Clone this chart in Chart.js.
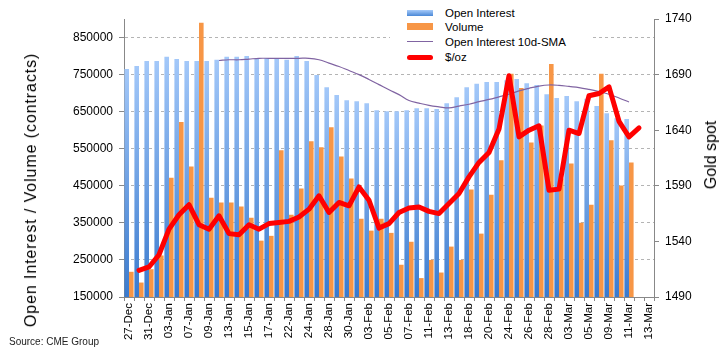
<!DOCTYPE html>
<html>
<head>
<meta charset="utf-8">
<script src="https://cdn.jsdelivr.net/npm/chart.js@4.4.0/dist/chart.umd.min.js"></script>
<style>
  body { margin: 0; background: #fff; }
  #wrap { position: relative; width: 728px; height: 354px; font-family: "Liberation Sans", Arial, sans-serif; color: #000; }
  #chart { position: absolute; left: 0; top: 0; }
  .vtitle { position: absolute; white-space: nowrap; transform: translate(-50%, -50%) rotate(-90deg); font-size: 16px; }
  #legend { position: absolute; left: 390px; top: 0; width: 200px; height: 64px; background: #fff; font-size: 11.5px; }
  .row { position: absolute; left: 0; height: 14px; line-height: 14px; }
  .row span.t { position: absolute; left: 55px; top: 0; white-space: nowrap; }
  .sw { position: absolute; left: 17px; width: 26px; }
  #source { position: absolute; left: 9px; top: 336px; font-size: 10px; color: #222; white-space: nowrap; }
</style>
</head>
<body>
<div id="wrap">
  <canvas id="chart" width="728" height="354"></canvas>
  <div class="vtitle" style="left:31px; top:190px; letter-spacing:0.9px;">Open Interest / Volume (contracts)</div>
  <div class="vtitle" style="left:711px; top:155px;">Gold spot</div>
  <div id="legend">
    <div class="row" style="top:6px"><div class="sw" style="top:4px;height:6px;background:linear-gradient(#a7cbfa,#4a88d6);"></div><span class="t">Open Interest</span></div>
    <div class="row" style="top:20px"><div class="sw" style="top:3px;height:7px;background:#f79646;"></div><span class="t">Volume</span></div>
    <div class="row" style="top:35px"><div class="sw" style="top:6px;height:1px;background:#8064a2;"></div><span class="t">Open Interest 10d-SMA</span></div>
    <div class="row" style="top:50px"><div class="sw" style="top:5px;height:5px;border-radius:3px;background:#ff0000;"></div><span class="t">$/oz</span></div>
  </div>
  <div id="source">Source: CME Group</div>
</div>
<script>
// x labels shown on every other trading day
const tickLabels = ['27-Dec','31-Dec','03-Jan','07-Jan','09-Jan','13-Jan','15-Jan','17-Jan','22-Jan','24-Jan',
  '28-Jan','30-Jan','03-Feb','05-Feb','07-Feb','11-Feb','13-Feb','18-Feb','20-Feb','24-Feb',
  '26-Feb','28-Feb','03-Mar','05-Mar','09-Mar','11-Mar','13-Mar']

const openInterest = [765000,773000,787000,787000,798000,792000,787000,787000,787000,790000,
  798000,798000,800000,792000,795000,792000,790000,800000,787000,749000,
  716000,695000,681000,678000,673000,654000,651000,651000,654000,659000,
  659000,657000,673000,689000,716000,725000,730000,730000,735000,738000,
  727000,722000,697000,687000,692000,678000,685000,665000,646000,632000,
  630000,null,null]

const volume = [218000,189000,225000,262000,472000,622000,502000,890000,418000,405000,
  405000,394000,364000,302000,315000,546000,372000,443000,570000,554000,
  608000,529000,470000,361000,329000,361000,323000,237000,299000,201000,
  250000,216000,286000,250000,440000,321000,426000,519000,752000,714000,
  567000,613000,779000,470000,510000,350000,399000,752000,573000,451000,
  513000,null,null]

const oiSma = [null,null,null,null,null,null,null,null,null,788000,
  790000,790000,792000,794000,794000,794000,794000,794000,794000,790000,
  781000,772000,761000,750000,737000,723000,709000,696000,680000,673000,
  667000,663000,660000,665000,670000,677000,683000,690000,697000,706000,
  713000,719000,722000,721000,718000,715000,710000,704000,697000,687000,
  676000,null,null]

const goldSpot = [null,1514,1517,1528,1551,1564,1573,1555,1551,1563,
  1547,1546,1555,1551,1556,1557,1558,1562,1569,1581,
  1566,1575,1572,1589,1577,1552,1556,1566,1570,1571,
  1567,1565,1574,1583,1598,1611,1620,1641,1689,1634,
  1640,1644,1586,1587,1640,1637,1671,1673,1679,1648,
  1634,1642,null]

const leftTicks = [150000,250000,350000,450000,550000,650000,750000,850000]

let categories = []
tickLabels.forEach((t, i) => {
  categories.push(t)
  if (i < tickLabels.length - 1) categories.push('')
})

const font = 'Liberation Sans, Arial, sans-serif'

function blueFill(c) {
  const chart = c.chart
  const area = chart.chartArea
  if (!area || c.raw == null) return '#8db8f0'
  const top = chart.scales.y.getPixelForValue(c.raw)
  const g = chart.ctx.createLinearGradient(0, top, 0, area.bottom)
  g.addColorStop(0, '#a3c8f9')
  g.addColorStop(1, '#3a7acd')
  return g
}

var ctx = document.getElementById('chart').getContext('2d')
var chart = new Chart(ctx, {
  type: 'bar',
  data: {
    labels: categories,
    datasets: [{
      type: 'line',
      label: '$/oz',
      data: goldSpot,
      yAxisID: 'y1',
      borderColor: '#ff0000',
      borderWidth: 5,
      borderJoinStyle: 'round',
      borderCapStyle: 'round',
      pointRadius: 0,
      tension: 0,
      order: 1
    }, {
      type: 'line',
      label: 'Open Interest 10d-SMA',
      data: oiSma,
      yAxisID: 'y',
      borderColor: '#8064a2',
      borderWidth: 1.2,
      pointRadius: 0,
      tension: 0.4,
      order: 2
    }, {
      label: 'Open Interest',
      data: openInterest,
      yAxisID: 'y',
      backgroundColor: blueFill,
      categoryPercentage: 0.92,
      barPercentage: 1,
      order: 3
    }, {
      label: 'Volume',
      data: volume,
      yAxisID: 'y',
      backgroundColor: '#f79646',
      categoryPercentage: 0.92,
      barPercentage: 1,
      order: 4
    }]
  },
  options: {
    responsive: false,
    animation: false,
    layout: { padding: { top: 19, left: 0, right: 0, bottom: 0 } },
    plugins: { legend: { display: false }, tooltip: { enabled: false } },
    scales: {
      x: {
        offset: true,
        afterFit: s => { s.height = 57 },
        grid: { offset: true, drawOnChartArea: false, tickLength: 4, color: '#888' },
        border: { color: '#888' },
        ticks: {
          autoSkip: false, maxRotation: 90, minRotation: 90, padding: 2,
          color: '#000', font: { family: font, size: 11.5 },
          callback: (v, i) => categories[i]
        }
      },
      y: {
        position: 'left',
        min: 150000,
        max: 900000,
        afterFit: s => { s.width = 124 },
        afterBuildTicks: s => { s.ticks = leftTicks.map(v => ({ value: v })) },
        grid: { color: '#b4b4b4', tickColor: '#888', tickLength: 5, tickBorderDash: [] },
        border: { color: '#888', dash: [3, 3] },
        ticks: { padding: 6, color: '#000', font: { family: font, size: 12 }, callback: v => String(v) }
      },
      y1: {
        position: 'right',
        min: 1490,
        max: 1740,
        afterFit: s => { s.width = 74 },
        grid: { drawOnChartArea: false, color: '#888', tickLength: 5 },
        border: { color: '#888' },
        ticks: { stepSize: 50, padding: 6, color: '#000', font: { family: font, size: 12 }, callback: v => String(v) }
      }
    }
  }
})
</script>
</body>
</html>
